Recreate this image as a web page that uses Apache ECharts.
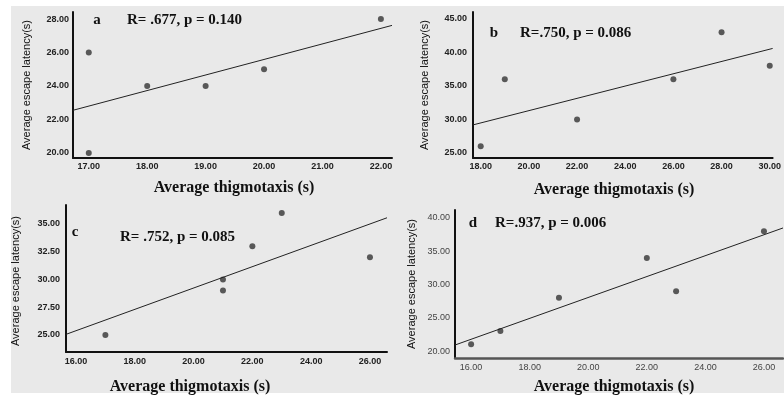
<!DOCTYPE html>
<html>
<head>
<meta charset="utf-8">
<script src="https://cdn.jsdelivr.net/npm/echarts@6/dist/echarts.min.js"></script>
<style>
html,body{margin:0;padding:0;background:#ffffff;}
#chart{width:784px;height:396px;}
</style>
</head>
<body>
<div id="chart"></div>
<script>
// ---- data ----
const pointsA = [[17,26],[17,20],[18,24],[19,24],[20,25],[22,28]];
const pointsB = [[18,26],[19,36],[22,30],[26,36],[28,43],[30,38]];
const pointsC = [[17,25],[21,30],[21,29],[22,33],[23,36],[26,32]];
const pointsD = [[16,21],[17,23],[19,28],[22,34],[23,29],[26,38]];

// fit-line end points
const fitA = [[16.73,22.55],[22.19,27.62]];
const fitB = [[17.68,29.19],[30.12,40.60]];
const fitC = [[15.66,25.06],[26.58,35.56]];
const fitD = [[15.45,20.90],[26.65,38.50]];

const xTicksA = [17,18,19,20,21,22];
const yTicksA = [20,22,24,26,28];
const xTicksB = [18,20,22,24,26,28,30];
const yTicksB = [25,30,35,40,45];
const xTicksC = [16,18,20,22,24,26];
const yTicksC = [25,27.5,30,32.5,35];
const xTicksD = [16,18,20,22,24,26];
const yTicksD = [20,25,30,35,40];

const statA = 'R= .677, p = 0.140';
const statB = 'R=.750, p = 0.086';
const statC = 'R= .752, p = 0.085';
const statD = 'R=.937, p = 0.006';
const panelLetters = ['a','b','c','d'];
const xTitle = 'Average thigmotaxis (s)';
const yTitle = 'Average escape latency(s)';

// ---- layout ----
const panels = [
  {pts:pointsA, fit:fitA, xt:xTicksA, yt:yTicksA, stat:statA,
   grid:{left:73, top:12, width:319, height:146}, xr:[16.73,22.19], yr:[19.7,28.42],
   xlbl:'#222', bold:'bold', xLineColor:'#111', xLineW:2,
   yTitlePos:[27,85], xTitlePos:[234,188], letterPos:[97,20], statPos:[127,20], ylm:4, xlm:4},
  {pts:pointsB, fit:fitB, xt:xTicksB, yt:yTicksB, stat:statB,
   grid:{left:473, top:12, width:311, height:146}, xr:[17.68,30.12], yr:[24.25,46.04],
   xlbl:'#222', bold:'bold', xLineColor:'#111', xLineW:2,
   yTitlePos:[425,85], xTitlePos:[614,190], letterPos:[494,33], statPos:[520,33], ylm:6, xlm:4},
  {pts:pointsC, fit:fitC, xt:xTicksC, yt:yTicksC, stat:statC,
   grid:{left:66, top:205, width:321, height:147}, xr:[15.66,26.58], yr:[23.47,36.71],
   xlbl:'#222', bold:'bold', xLineColor:'#111', xLineW:2,
   yTitlePos:[16,281], xTitlePos:[190,387], letterPos:[75,232], statPos:[120,237], ylm:6, xlm:5},
  {pts:pointsD, fit:fitD, xt:xTicksD, yt:yTicksD, stat:statD,
   grid:{left:455, top:210, width:328, height:148}, xr:[15.45,26.65], yr:[18.95,41.2],
   xlbl:'#444', bold:'normal', xLineColor:'#555', xLineW:2.5,
   yTitlePos:[412,284], xTitlePos:[614,387], letterPos:[473,223], statPos:[495,223], ylm:5, xlm:5}
];

const grids = [], xAxes = [], yAxes = [], series = [], graphics = [];
graphics.push({type:'rect', z:-10, shape:{x:11, y:6, width:773, height:387}, style:{fill:'#e9e9e9'}});

panels.forEach((p, i) => {
  grids.push(p.grid);
  xAxes.push({
    type:'value', gridIndex:i, min:p.xr[0], max:p.xr[1],
    axisLine:{show:true, onZero:false, lineStyle:{color:p.xLineColor, width:p.xLineW}},
    axisTick:{show:false}, splitLine:{show:false},
    axisLabel:{customValues:p.xt, formatter:v=>v.toFixed(2), fontSize:9, fontWeight:p.bold,
      fontFamily:'Liberation Sans', color:p.xlbl, margin:p.xlm}
  });
  yAxes.push({
    type:'value', gridIndex:i, min:p.yr[0], max:p.yr[1],
    axisLine:{show:true, onZero:false, lineStyle:{color:'#111', width:2}},
    axisTick:{show:false}, splitLine:{show:false},
    axisLabel:{customValues:p.yt, formatter:v=>v.toFixed(2), fontSize:9, fontWeight:p.bold,
      fontFamily:'Liberation Sans', color:p.xlbl, margin:p.ylm}
  });
  series.push({
    type:'line', xAxisIndex:i, yAxisIndex:i, data:p.fit, symbol:'none',
    lineStyle:{color:'#222', width:1}, silent:true, animation:false
  });
  series.push({
    type:'scatter', xAxisIndex:i, yAxisIndex:i, data:p.pts, symbolSize:6,
    itemStyle:{color:'#333'}, animation:false
  });
  graphics.push({type:'text', x:p.yTitlePos[0], y:p.yTitlePos[1], rotation:Math.PI/2,
    style:{text:yTitle, font:'11px "Liberation Sans"', fill:'#111', align:'center', verticalAlign:'middle'}});
  graphics.push({type:'text', x:p.xTitlePos[0], y:p.xTitlePos[1],
    style:{text:xTitle, font:'bold 16px "Liberation Serif"', fill:'#111', align:'center', verticalAlign:'middle'}});
  graphics.push({type:'text', x:p.letterPos[0], y:p.letterPos[1],
    style:{text:panelLetters[i], font:'bold 15px "Liberation Serif"', fill:'#111', align:'center', verticalAlign:'middle'}});
  graphics.push({type:'text', x:p.statPos[0], y:p.statPos[1],
    style:{text:p.stat, font:'bold 15px "Liberation Serif"', fill:'#111', align:'left', verticalAlign:'middle'}});
});

const chart = echarts.init(document.getElementById('chart'), null, {renderer:'canvas'});
chart.setOption({
  animation:false,
  backgroundColor:'#ffffff',
  grid:grids, xAxis:xAxes, yAxis:yAxes, series:series, graphic:graphics
});
</script>
</body>
</html>
